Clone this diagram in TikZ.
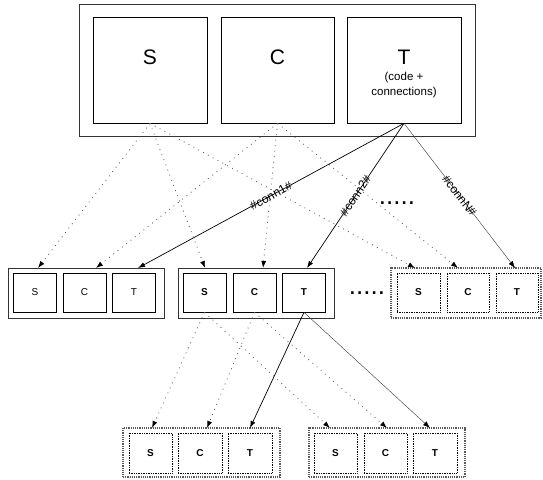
\documentclass[tikz,border=0pt]{standalone}
\usepackage{fontspec}
\setmainfont{Liberation Sans}
\usetikzlibrary{arrows.meta}
\begin{document}
\begin{tikzpicture}[x=1pt,y=-1pt,
  outerbox/.style={draw=black!80, line width=0.9pt, inner sep=0, minimum height=50pt},
  douter/.style={draw=black!65, line width=1.2pt, densely dotted, inner sep=0, minimum height=49pt},
  bigcell/.style={draw, line width=0.7pt, inner sep=0, minimum width=113pt, minimum height=106pt},
  cell/.style={draw, line width=0.7pt, inner sep=0, minimum width=43pt, minimum height=39pt, font=\fontsize{10}{12}\selectfont},
  cellb/.style={cell, font=\fontsize{10}{12}\selectfont\bfseries},
  dcell/.style={cellb, densely dotted, line width=0.8pt},
  bigtext/.style={inner sep=0, font=\fontsize{21}{25}\selectfont},
  smalltext/.style={inner sep=0, align=center, font=\fontsize{11.5}{14.5}\selectfont},
  dotstext/.style={inner sep=0, anchor=base, font=\fontsize{26}{30}\selectfont},
  tip/.style={-{Latex[length=7pt,width=5pt,color=black]}},
  dotarrow/.style={tip, dash pattern=on 0.9pt off 4.6pt, draw=black!65, line width=0.8pt},
  link/.style={tip, line width=0.7pt},
  thinlink/.style={tip, line width=0.4pt, draw=black!80},
  connlabel/.style={midway, sloped, inner sep=0, font=\fontsize{12}{14}\selectfont}
]
\useasboundingbox (0,0) rectangle (543,479);

% top
\node[outerbox, minimum width=396pt, minimum height=132pt] (top) at (277,70) {};
\node[bigcell, minimum width=114pt] (tS) at (150,70) {};
\node[bigcell] (tC) at (277.5,70) {};
\node[bigcell, minimum width=114pt] (tT) at (404,70) {};
\node[bigtext] (tSl) at (150,57.5) {S};
\node[bigtext] (tCl) at (277.5,57.5) {C};
\node[bigtext] (tTl) at (404,57.5) {T};
\node[smalltext] (tTs) at (404,85) {(code +\\connections)};

% middle row
\node[outerbox, minimum width=156pt] (m1) at (86,293) {};
\node[cell] (m1S) at (35,292.5) {S};
\node[cell] (m1C) at (84.5,292.5) {C};
\node[cell] (m1T) at (134,292.5) {T};

\node[outerbox, minimum width=156pt] (m2) at (256,293) {};
\node[cellb] (m2S) at (204.5,292.5) {S};
\node[cellb] (m2C) at (254.5,292.5) {C};
\node[cellb] (m2T) at (304,292.5) {T};

\node[douter, minimum width=150pt, minimum height=50pt] (m3) at (466,293) {};
\node[dcell] (m3S) at (418.5,292.5) {S};
\node[dcell, minimum width=42pt] (m3C) at (468,292.5) {C};
\node[dcell, minimum width=42pt] (m3T) at (517,292.5) {T};

\node[dotstext] (dots1) at (397,204.5) {.....};
\node[dotstext] (dots2) at (367,294.5) {.....};

% bottom row
\node[douter, minimum width=157pt] (bA) at (201.5,452.5) {};
\node[dcell, minimum height=40pt] (bAS) at (150.5,453) {S};
\node[dcell, minimum height=40pt, minimum width=44pt] (bAC) at (200,453) {C};
\node[dcell, minimum height=40pt, minimum width=44pt] (bAT) at (250,453) {T};

\node[douter, minimum width=156pt] (bB) at (387,452.5) {};
\node[dcell, minimum height=40pt] (bBS) at (335.5,453) {S};
\node[dcell, minimum height=40pt] (bBC) at (385.5,453) {C};
\node[dcell, minimum height=40pt, minimum width=44pt] (bBT) at (435,453) {T};

% arrow targets
\coordinate (m1Sin) at (38,268);
\coordinate (m1Cin) at (96,268);
\coordinate (m1Tin) at (138,268);
\coordinate (m2Sin) at (205,268);
\coordinate (m2Cin) at (263,268);
\coordinate (m2Tin) at (307,268);
\coordinate (m3Sin) at (415,268);
\coordinate (m3Cin) at (458,268);
\coordinate (m3Tin) at (515,268);
\coordinate (bASin) at (152,428);
\coordinate (bACin) at (207,428);
\coordinate (bATin) at (250,428);
\coordinate (bBSin) at (330,428);
\coordinate (bBCin) at (387,428);
\coordinate (bBTin) at (430,428);

% top to middle
\draw[dotarrow] (tS.south) -- (m1Sin);
\draw[dotarrow] (tS.south) -- (m2Sin);
\draw[dotarrow] (tS.south) -- (m3Sin);
\draw[dotarrow] (tC.south) -- (m1Cin);
\draw[dotarrow] (tC.south) -- (m2Cin);
\draw[dotarrow] (tC.south) -- (m3Cin);
\draw[link] (tT.south) -- node[connlabel] {\#conn1\#} (m1Tin);
\draw[link] (tT.south) -- node[connlabel] {\#conn2\#} (m2Tin);
\draw[thinlink] (tT.south) -- node[connlabel] {\#connN\#} (m3Tin);

% middle to bottom
\draw[dotarrow] (m2S.south) -- (bASin);
\draw[dotarrow] (m2S.south) -- (bBSin);
\draw[dotarrow] (m2C.south) -- (bACin);
\draw[dotarrow] (m2C.south) -- (bBCin);
\draw[link] (m2T.south) -- (bATin);
\draw[thinlink] (m2T.south) -- (bBTin);
\end{tikzpicture}
\end{document}
